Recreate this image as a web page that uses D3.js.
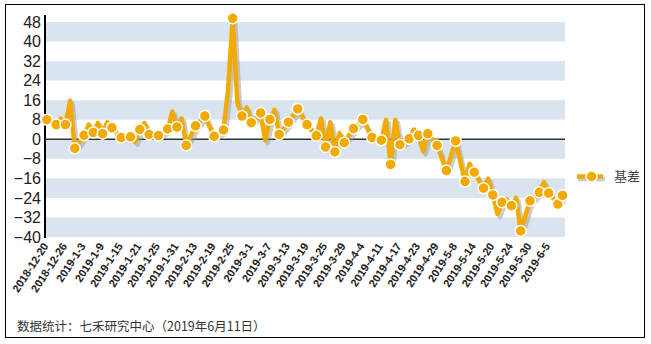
<!DOCTYPE html>
<html><head><meta charset="utf-8">
<script src="https://cdn.jsdelivr.net/npm/d3@7"></script>
<style>
html,body{margin:0;padding:0;background:#fff;}
svg{display:block;}
</style></head>
<body>
<script>
// ---- data ----
// x tick labels: every 4th trading day
const tickLabels = ["2018-12-20","2018-12-26","2019-1-3","2019-1-9","2019-1-15","2019-1-21","2019-1-25","2019-1-31","2019-2-13","2019-2-19","2019-2-25","2019-3-1","2019-3-7","2019-3-13","2019-3-19","2019-3-25","2019-3-29","2019-4-4","2019-4-11","2019-4-17","2019-4-23","2019-4-29","2019-5-8","2019-5-14","2019-5-20","2019-5-24","2019-5-30","2019-6-5"];
const yTicks = [48,40,32,24,16,8,0,-8,-16,-24,-32,-40];
// daily basis values (trading days 2018-12-20 ... 2019-6-11)
const basis = [
  8, 7, 6, 8.5, 6, 15.8, -3.7, -1, 1.6, 6,
  2.8, 6.7, 2.3, 7, 4.7, 2.7, 0.7, 1, 1, -1,
  4, 6.6, 2, 1.7, 1.5, 2.8, 4.2, 11.3, 5, 8.5,
  -2.5, 1.5, 5.5, 7.5, 9.5, 5.3, 1.2, 2.4, 3.8, 20,
  49.5, 15, 9.5, 13, 6.8, 8.8, 10.8, -0.4, 8.1, 12,
  2, 4.5, 7, 9.7, 12.4, 9.2, 6, 3.7, 1.4, 8.5,
  -3.2, 7, -5.2, 2.5, -1.4, 1.5, 4.4, 6.2, 8.1, 4.4,
  0.7, 0.2, -0.4, 8, -10.3, 8, -2.2, -1, 0.2, 4,
  1.6, -5, 2.3, 0, -2.5, -7.6, -12.8, -6.7, -0.7, -9,
  -17.3, -10, -13.5, -16.7, -20, -16.2, -22.8, -30.6, -25.8, -24.5,
  -27.2, -24, -37.5, -31.3, -25.2, -23.4, -21.7, -17.6, -22, -24.2,
  -26.5, -23
];
const seriesName = "基差";
const footnote = "数据统计：七禾研究中心（2019年6月11日）";

// ---- drawing ----
const W = 651, H = 344;
const svg = d3.select("body").append("svg").attr("width", W).attr("height", H);
const orange = "#F2A900";
const n = basis.length;
const x = d3.scaleLinear().domain([0, n - 1]).range([46.9, 562.5]);
const y = d3.scaleLinear().domain([-40, 48]).range([237, 22]);
const left = 45, right = 565;

// frame
svg.append("rect").attr("x", 5.5).attr("y", 4.5).attr("width", 639).attr("height", 333)
  .attr("fill", "none").attr("stroke", "#000").attr("stroke-width", 1);

// bands
for (let i = 0; i < yTicks.length - 1; i += 2) {
  svg.append("rect").attr("x", left).attr("y", y(yTicks[i]))
    .attr("width", right - left).attr("height", y(yTicks[i + 1]) - y(yTicks[i]))
    .attr("fill", "#DAE4EF");
}

// y axis
const yAxis = d3.axisLeft(y).tickValues(yTicks).tickSize(0).tickPadding(4);
const gy = svg.append("g").attr("transform", `translate(${left},0)`).call(yAxis);
gy.select(".domain").remove();
gy.selectAll("text").attr("font-family", "Liberation Sans, Arial, sans-serif").attr("font-size", 16).attr("fill", "#222");
svg.append("line").attr("x1", left).attr("x2", left).attr("y1", 15).attr("y2", y(-40) + 1)
  .attr("stroke", "#000").attr("stroke-width", 2);

// zero line
svg.append("line").attr("x1", left).attr("x2", right).attr("y1", y(0)).attr("y2", y(0))
  .attr("stroke", "#333").attr("stroke-width", 1.5);

// x labels
const gx = svg.append("g");
tickLabels.forEach((lab, i) => {
  const px = x(i * 4) + 2, py = 246;
  gx.append("text").attr("transform", `translate(${px},${py}) rotate(-57)`)
    .attr("text-anchor", "end").attr("font-family", "Liberation Sans, Arial, sans-serif")
    .attr("font-size", 11).attr("font-weight", "bold").attr("fill", "#222").text(lab);
});

const pts = basis.map((v, i) => ({ i, v }));
const line = d3.line().x(p => x(p.i)).y(p => y(p.v));

// shadow + line
svg.append("path").attr("d", line(pts)).attr("transform", "translate(2.5,3)")
  .attr("fill", "none").attr("stroke", "#9a9a9a").attr("stroke-opacity", 0.5)
  .attr("stroke-width", 4.5).attr("stroke-linejoin", "round");
svg.append("path").attr("d", line(pts))
  .attr("fill", "none").attr("stroke", orange).attr("stroke-width", 4.5)
  .attr("stroke-linejoin", "round");
// markers on every other point and the last one
svg.selectAll("circle.mk").data(pts.filter(p => p.i % 2 === 0 || p.i === n - 1)).enter().append("circle")
  .attr("class", "mk").attr("cx", p => x(p.i)).attr("cy", p => y(p.v)).attr("r", 5.5)
  .attr("fill", orange).attr("stroke", "#fff").attr("stroke-width", 1.5);

// legend
const ly = 176.5;
svg.append("line").attr("x1", 578).attr("x2", 605).attr("y1", ly + 2.5).attr("y2", ly + 2.5)
  .attr("stroke", "#9a9a9a").attr("stroke-opacity", 0.5).attr("stroke-width", 4.5);
svg.append("line").attr("x1", 577).attr("x2", 603).attr("y1", ly).attr("y2", ly)
  .attr("stroke", orange).attr("stroke-width", 4.5);
svg.append("circle").attr("cx", 591.5).attr("cy", ly).attr("r", 5.5)
  .attr("fill", orange).attr("stroke", "#fff").attr("stroke-width", 1.5);
svg.append("text").attr("x", 614).attr("y", ly + 4.5).attr("font-family", "Noto Sans CJK SC, sans-serif")
  .attr("font-size", 13).attr("fill", "#444").text(seriesName);

// footnote
svg.append("text").attr("x", 17).attr("y", 331).attr("font-family", "Noto Sans CJK SC, sans-serif")
  .attr("font-size", 12.5).attr("fill", "#333").text(footnote);
</script>
</body></html>
